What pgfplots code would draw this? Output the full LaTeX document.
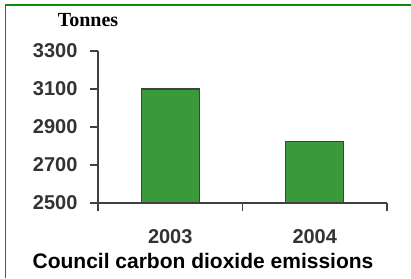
\documentclass[border=0pt]{standalone}
\usepackage{pgfplots}
\pgfplotsset{compat=1.18}
\usepackage{fontspec}
\setmainfont{Liberation Sans}
\newfontfamily\serifb{Liberation Serif}
\definecolor{bargreen}{RGB}{58,154,58}
\definecolor{framegreen}{RGB}{10,140,10}
\definecolor{axgray}{RGB}{64,64,64}
\definecolor{lblgray}{RGB}{51,51,51}
\begin{document}
\begin{tikzpicture}
\path[use as bounding box] (0pt,0pt) rectangle (411pt,278pt);
\draw[draw=framegreen, line width=2pt] (4.5pt,272.5pt) -- (411pt,272.5pt);
\draw[draw=framegreen, line width=1.3pt] (5.5pt,273pt) -- (5.5pt,0pt);
\begin{axis}[
 at={(98pt,75pt)}, anchor=south west, scale only axis, width=289pt, height=152pt,
 xmin=-0.5, xmax=1.5, ymin=2500, ymax=3300,
 axis x line*=bottom, axis y line*=left,
 axis line style={axgray, line width=1.3pt},
 ytick={2500,2700,2900,3100,3300},
 xtick={-0.5,0.5,1.5}, xticklabels={},
 extra x ticks={0,1}, extra x tick labels={2003,2004},
 extra x tick style={major tick length=0pt, xticklabel style={yshift=-23pt}},
 tick align=outside, major tick length=8pt,
 tick style={axgray, line width=1.3pt},
 yticklabel style={font=\fontsize{20}{22}\selectfont\bfseries, text=lblgray, xshift=-9pt},
 xticklabel style={font=\fontsize{20}{22}\selectfont\bfseries, text=lblgray},
 /pgf/number format/assume math mode=true, /pgf/number format/1000 sep={},
 ybar, bar width=58pt,
]
\addplot[fill=bargreen, draw=axgray, line width=1.3pt] coordinates {(0,3100) (1,2825)};
\end{axis}
\node[font=\serifb\fontsize{20}{22}\selectfont\bfseries] at (88pt,258pt) {Tonnes};
\node[anchor=base, font=\fontsize{21}{23}\selectfont\bfseries] at (203pt,10pt) {Council carbon dioxide emissions};
\end{tikzpicture}
\end{document}
